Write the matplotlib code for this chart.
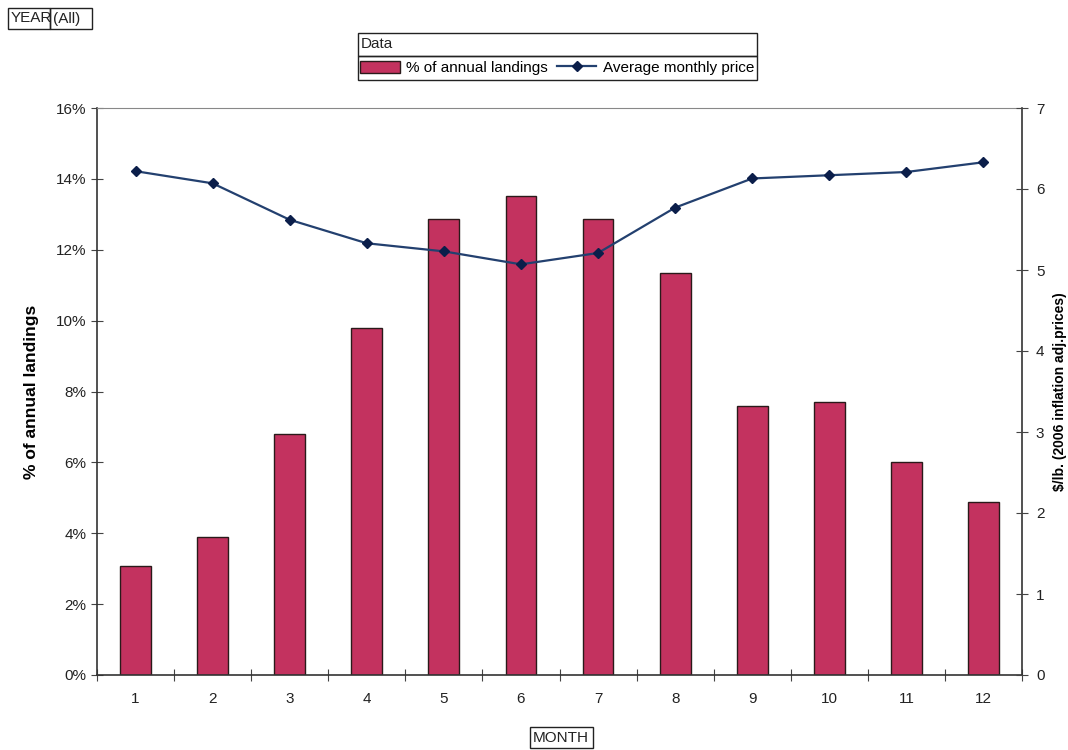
import numpy as np
import matplotlib
matplotlib.use("Agg")
import matplotlib.pyplot as plt
from matplotlib.patches import Rectangle

plt.rcParams['font.family'] = ['Liberation Sans', 'DejaVu Sans']

# monthly data
months = [1, 2, 3, 4, 5, 6, 7, 8, 9, 10, 11, 12]
month_labels = ['1', '2', '3', '4', '5', '6', '7', '8', '9', '10', '11', '12']
landings_pct = [3.07, 3.9, 6.8, 9.8, 12.88, 13.53, 12.88, 11.33, 7.6, 7.71, 6.02, 4.89]
avg_price = [6.22, 6.07, 5.62, 5.33, 5.23, 5.07, 5.21, 5.77, 6.13, 6.17, 6.21, 6.33]

bar_color = '#C3325F'
line_color = '#23406F'
W, H = 1068, 750

fig = plt.figure(figsize=(W / 100, H / 100), dpi=100)
ax = fig.add_axes([97 / W, 1 - 675 / H, (1022 - 97) / W, (675 - 108) / H])

bars = ax.bar(months, landings_pct, width=0.4, color=bar_color,
              edgecolor='#2a1a1a', linewidth=1.0, zorder=2)
ax.set_xlim(0.5, 12.5)
ax.set_ylim(0, 16)
ax.set_yticks(np.arange(0, 17, 2))
ax.set_yticklabels([f'{v}%' for v in range(0, 17, 2)], fontsize=11, color='#222')
ax.set_ylabel('% of annual landings', fontsize=12.5, fontweight='bold', labelpad=12)

# category boundaries get the tick marks, labels sit in the middle
ax.set_xticks(np.arange(0.5, 13, 1))
ax.set_xticklabels([])
ax.set_xticks(months, minor=True)
ax.set_xticklabels(month_labels, minor=True, fontsize=11, color='#222')
ax.tick_params(axis='x', which='major', direction='inout', length=8, color='#444')
ax.tick_params(axis='x', which='minor', length=0, pad=12)
ax.tick_params(axis='y', direction='inout', length=8, color='#444')

for s in ['left', 'bottom', 'right']:
    ax.spines[s].set_color('#333')
    ax.spines[s].set_linewidth(1.2)
ax.spines['top'].set_color('#888')

ax2 = ax.twinx()
line, = ax2.plot(months, avg_price, color=line_color, linewidth=1.6,
                 marker='D', markersize=5, markerfacecolor='#0B1E4A',
                 markeredgecolor='#0B1E4A', zorder=3)
ax2.set_ylim(0, 7)
ax2.set_yticks(range(0, 8))
ax2.set_yticklabels([str(v) for v in range(0, 8)], fontsize=11, color='#222')
ax2.tick_params(axis='y', direction='inout', length=8, color='#444', pad=6)
ax2.set_ylabel('$/lb. (2006 inflation adj.prices)', fontsize=10,
               fontweight='bold', labelpad=6)
for s in ax2.spines.values():
    s.set_visible(False)

# page fields in boxes
def field_box(x0, y0, x1, y1, text, ha='left'):
    fig.patches.append(Rectangle((x0 / W, 1 - y1 / H), (x1 - x0) / W, (y1 - y0) / H,
                                 transform=fig.transFigure, fill=False,
                                 edgecolor='#222', linewidth=1.0))
    if text:
        fig.text((x0 + 3) / W if ha == 'left' else (x0 + x1) / 2 / W,
                 1 - (y0 + y1) / 2 / H, text, ha=ha, va='center',
                 fontsize=11, color='#222')

field_box(8, 8, 50, 29, 'YEAR')
field_box(50, 8, 92, 29, '(All)')
field_box(530, 727, 593, 748, 'MONTH')
field_box(358, 33, 757, 56, 'Data')
field_box(358, 56, 757, 80, None)

fig.legend([bars, line], ['% of annual landings', 'Average monthly price'],
           ncol=2, loc='center', bbox_to_anchor=(557 / W, 1 - 68 / H),
           frameon=False, fontsize=11, handlelength=2.6, handleheight=0.9,
           columnspacing=0.6, handletextpad=0.4, borderpad=0.1)

fig.savefig('out.png', dpi=100)
